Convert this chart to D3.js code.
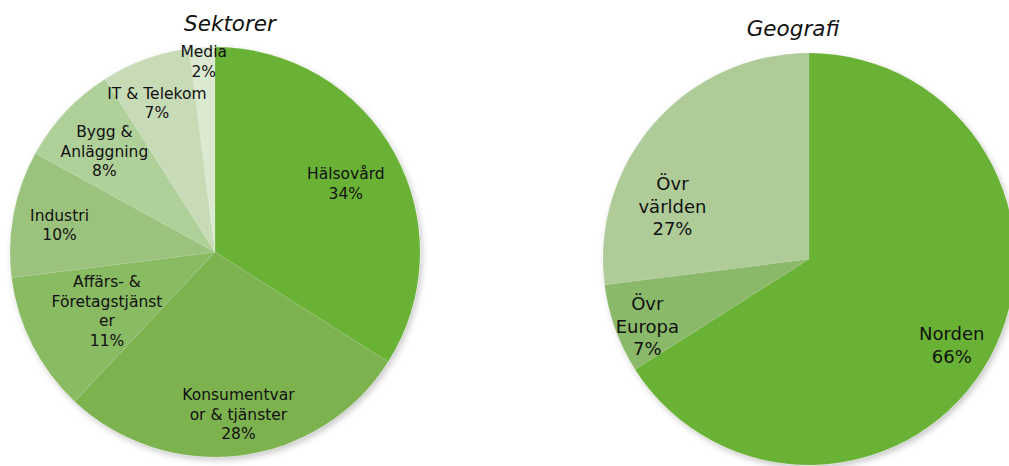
<!DOCTYPE html>
<html>
<head>
<meta charset="utf-8">
<script src="https://cdn.jsdelivr.net/npm/d3@7"></script>
<style>
  html, body { margin: 0; padding: 0; background: #fff; }
  svg { display: block; }
  text { font-family: "DejaVu Sans", Verdana, sans-serif; fill: #111; }
</style>
</head>
<body>
<svg id="chart" width="1009" height="466"></svg>
<script>
// ---- Data ----
const sectorTitle = "Sektorer";
const sectorCategories = ["Hälsovård", "Konsumentvaror & tjänster", "Affärs- & Företagstjänster", "Industri", "Bygg & Anläggning", "IT & Telekom", "Media"];
const sectorLabelLines = [["Hälsovård"], ["Konsumentvar", "or & tjänster"], ["Affärs- &", "Företagstjänst", "er"], ["Industri"], ["Bygg &", "Anläggning"], ["IT & Telekom"], ["Media"]];
const sectorValues = [34, 28, 11, 10, 8, 7, 2];

const geoTitle = "Geografi";
const geoCategories = ["Norden", "Övr Europa", "Övr världen"];
const geoLabelLines = [["Norden"], ["Övr", "Europa"], ["Övr", "världen"]];
const geoValues = [66, 7, 27];

// ---- Styles / layout ----
const sectorColors = ["#6ab235", "#7db350", "#89bb64", "#9cc37e", "#b0d09a", "#c7dcb6", "#dce9d1"];
const geoColors = ["#6ab235", "#8ab96a", "#afcb98"];
// label placement: [radius fraction, angle fraction within slice]
const sectorLabelPos = [[0.72, 0.51], [0.80, 0.49], [0.60, 0.46], [0.77, 0.475], [0.73, 0.47], [0.78, 0.44], [0.93, 0.53]];
const geoLabelPos = [[0.81, 0.51], [0.85, 0.39], [0.71, 0.29]];

const svg = d3.select("#chart");
const defs = svg.append("defs");
const f = defs.append("filter").attr("id", "shadow").attr("x", "-10%").attr("y", "-10%").attr("width", "120%").attr("height", "120%");
f.append("feDropShadow").attr("dx", 2).attr("dy", 3).attr("stdDeviation", 3).attr("flood-color", "#000").attr("flood-opacity", 0.22);

function drawPie(opts) {
  const g = svg.append("g").attr("transform", `translate(${opts.cx},${opts.cy})`);
  const pie = d3.pie().sort(null).value(d => d)(opts.values);
  const arc = d3.arc().innerRadius(0).outerRadius(opts.r);
  const color = d3.scaleOrdinal().domain(d3.range(opts.values.length)).range(opts.colors);

  const pg = g.append("g").attr("filter", "url(#shadow)");
  pg.selectAll("path").data(pie).join("path")
    .attr("d", arc)
    .attr("fill", (d, i) => color(i))
    .attr("stroke", "rgba(255,255,255,0.15)")
    .attr("stroke-width", 0.6);

  const lines = opts.lineHeight;
  pie.forEach((d, i) => {
    const [rf, af] = opts.labelPos[i];
    const a = d.startAngle + (d.endAngle - d.startAngle) * af;
    const rr = opts.r * rf;
    const x = rr * Math.sin(a), y = -rr * Math.cos(a);
    const txtLines = opts.labelLines[i].concat([Math.round(opts.values[i]) + "%"]);
    const n = txtLines.length;
    const t = g.append("text")
      .attr("text-anchor", "middle")
      .attr("font-size", opts.fontSize + "px")
      .attr("transform", `translate(${x},${y})`);
    txtLines.forEach((s, k) => {
      t.append("tspan").attr("x", 0)
        .attr("y", (k - (n - 1) / 2) * lines)
        .attr("dy", "0.35em")
        .text(s);
    });
  });

  svg.append("text")
    .attr("x", opts.titleX).attr("y", opts.titleY)
    .attr("text-anchor", "middle")
    .attr("font-size", "21.5px")
    .attr("font-style", "italic")
    .text(opts.title);
}

drawPie({ cx: 215, cy: 252, r: 205, values: sectorValues, colors: sectorColors, labelLines: sectorLabelLines, labelPos: sectorLabelPos, fontSize: 15.5, lineHeight: 19.5, title: sectorTitle, titleX: 230, titleY: 31 });
drawPie({ cx: 809, cy: 259, r: 206, values: geoValues, colors: geoColors, labelLines: geoLabelLines, labelPos: geoLabelPos, fontSize: 18, lineHeight: 22.5, title: geoTitle, titleX: 793, titleY: 36 });
</script>
</body>
</html>
